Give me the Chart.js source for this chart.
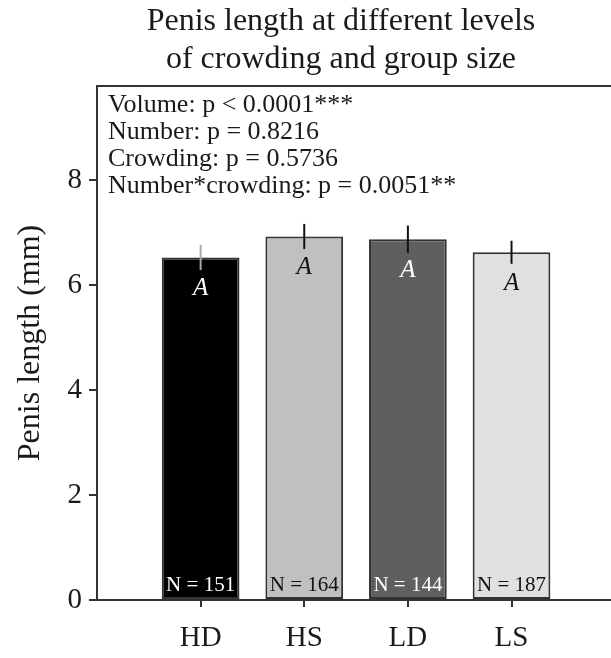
<!DOCTYPE html>
<html>
<head>
<meta charset="utf-8">
<script src="https://cdn.jsdelivr.net/npm/chart.js@4.4.0/dist/chart.umd.min.js"></script>
<style>
  html, body { margin: 0; padding: 0; background: #fff; overflow: hidden; }
  #wrap { width: 611px; height: 658px; }
</style>
</head>
<body>
<div id="wrap"><canvas id="lengthChart" width="611" height="658"></canvas></div>
<script>
// treatment groups and their measurements
var categories = ['HD', 'HS', 'LD', 'LS'];
var meanLength = [6.53, 6.93, 6.88, 6.63];
var errLength = [0.24, 0.24, 0.26, 0.22];
var sampleSize = [151, 164, 144, 187];
var groupLetters = ['A', 'A', 'A', 'A'];
var yTicks = [0, 2, 4, 6, 8];
var statsLines = [
    'Volume: p < 0.0001***',
    'Number: p = 0.8216',
    'Crowding: p = 0.5736',
    'Number*crowding: p = 0.0051**'
];
var titleLines = ['Penis length at different levels', 'of crowding and group size'];

var barColors = ['#000000', '#c0c0c0', '#5f5f5f', '#e0e0e0'];
var textColors = ['#ffffff', '#111111', '#ffffff', '#111111'];
var errColors = ['#a8a8a8', '#111111', '#111111', '#111111'];
var serif = "'Liberation Serif', 'Times New Roman', serif";
var ink = '#1a1a1a';

var extras = {
    id: 'extras',
    afterDatasetsDraw: function(chart) {
        var ctx = chart.ctx,
            area = chart.chartArea,
            y = chart.scales.y,
            meta = chart.getDatasetMeta(0);
        ctx.save();

        // error bars
        ctx.lineWidth = 2;
        meta.data.forEach(function(bar, i) {
            var hi = y.getPixelForValue(meanLength[i] + errLength[i]),
                lo = y.getPixelForValue(meanLength[i] - errLength[i]);
            ctx.strokeStyle = errColors[i];
            ctx.beginPath();
            ctx.moveTo(bar.x, hi);
            ctx.lineTo(bar.x, lo);
            ctx.stroke();
        });

        // letters and sample sizes inside the bars
        ctx.textAlign = 'center';
        ctx.textBaseline = 'middle';
        meta.data.forEach(function(bar, i) {
            ctx.fillStyle = textColors[i];
            ctx.font = 'italic 25px ' + serif;
            ctx.fillText(groupLetters[i], bar.x, bar.y + 31);
            ctx.font = '21px ' + serif;
            ctx.fillText('N = ' + sampleSize[i], bar.x, area.bottom - 15);
        });

        // top edge of the frame
        ctx.strokeStyle = '#333';
        ctx.lineWidth = 2;
        ctx.beginPath();
        ctx.moveTo(area.left, area.top);
        ctx.lineTo(area.right, area.top);
        ctx.stroke();

        // p-values block
        ctx.textAlign = 'left';
        ctx.fillStyle = ink;
        ctx.font = '26px ' + serif;
        statsLines.forEach(function(line, i) {
            ctx.fillText(line, area.left + 11, area.top + 19 + i * 27);
        });

        // two-line title
        ctx.textAlign = 'center';
        ctx.font = '32px ' + serif;
        titleLines.forEach(function(line, i) {
            ctx.fillText(line, area.left + 244, 22 + i * 38);
        });
        ctx.restore();
    }
};

new Chart(document.getElementById('lengthChart'), {
    type: 'bar',
    data: {
        datasets: [{
            data: categories.map(function(c, i) { return { x: i + 1, y: meanLength[i] }; }),
            backgroundColor: barColors,
            borderColor: '#333333',
            borderWidth: 2,
            borderSkipped: false,
            barPercentage: 0.75,
            categoryPercentage: 1.0
        }]
    },
    options: {
        responsive: false,
        animation: false,
        devicePixelRatio: 1,
        layout: { padding: { top: 86, right: 0, left: 0, bottom: 0 } },
        plugins: {
            legend: { display: false },
            tooltip: { enabled: false }
        },
        scales: {
            x: {
                type: 'linear',
                min: 0,
                max: 4.96,
                offset: false,
                afterBuildTicks: function(scale) {
                    scale.ticks = categories.map(function(c, i) { return { value: i + 1 }; });
                },
                afterFit: function(scale) { scale.height = 58; },
                grid: { display: true, drawOnChartArea: false, offset: false, tickLength: 7, color: '#333', lineWidth: 2 },
                border: { display: true, color: '#333', width: 2 },
                ticks: {
                    padding: 14,
                    color: ink,
                    font: { family: serif, size: 29 },
                    callback: function(v) { return categories[v - 1]; }
                }
            },
            y: {
                min: 0,
                max: 9.8,
                afterBuildTicks: function(scale) {
                    scale.ticks = yTicks.map(function(v) { return { value: v }; });
                },
                afterFit: function(scale) { scale.width = 97; },
                grid: { display: true, drawOnChartArea: false, tickLength: 8, color: '#333', lineWidth: 2 },
                border: { display: true, color: '#333', width: 2 },
                ticks: {
                    padding: 7,
                    color: ink,
                    font: { family: serif, size: 29 }
                },
                title: {
                    display: true,
                    text: 'Penis length (mm)',
                    color: ink,
                    font: { family: serif, size: 32 },
                    padding: { top: 11, bottom: 0 }
                }
            }
        }
    },
    plugins: [extras]
});
</script>
</body>
</html>
